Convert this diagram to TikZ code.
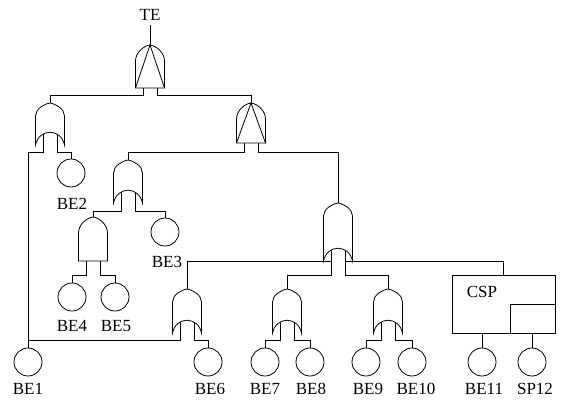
\documentclass[tikz,border=0pt]{standalone}
\usepackage{fontspec}
\setmainfont{Liberation Serif}
\tikzset{
  wire/.style={draw=black,line width=0.8pt},
  gateline/.style={draw=black,line width=0.8pt,fill=white},
  be/.style={circle,draw=black,line width=0.8pt,minimum size=28pt,inner sep=0pt,fill=white},
  lbl/.style={inner sep=0pt,font=\fontsize{17}{20}\selectfont},
}
% OR gate: name, cx, apex y, height
\newcommand{\ORgate}[4]{%
  \coordinate (#1) at (#2,#3);
  \begin{scope}[shift={(#2,#3)}]
    \path[gateline] (0,0) .. controls (-6,1) and (-14.5,6) .. (-14.5,13) -- (-14.5,#4)
      .. controls (-11,#4-17) and (11,#4-17) .. (14.5,#4) -- (14.5,13)
      .. controls (14.5,6) and (6,1) .. (0,0) -- cycle;
  \end{scope}}
% AND gate: name, cx, apex y, height
\newcommand{\ANDgate}[4]{%
  \coordinate (#1) at (#2,#3);
  \begin{scope}[shift={(#2,#3)}]
    \path[gateline] (0,0) .. controls (-7,1) and (-14.5,8) .. (-14.5,16) -- (-14.5,#4)
      -- (14.5,#4) -- (14.5,16) .. controls (14.5,8) and (7,1) .. (0,0) -- cycle;
  \end{scope}}
% AND gate with inner triangle
\newcommand{\PANDgate}[4]{%
  \ANDgate{#1}{#2}{#3}{#4}%
  \begin{scope}[shift={(#2,#3)}]
    \draw[wire] (-14.5,#4) -- (0,0) -- (14.5,#4);
  \end{scope}}
\begin{document}
\begin{tikzpicture}[x=1pt,y=-1pt]
\useasboundingbox (0,0) rectangle (561,401);

% ---- basic events ----
\node[be] (BE2) at (71,173) {};
\node[be] (BE3) at (165,232) {};
\node[be] (BE4) at (72,297) {};
\node[be] (BE5) at (115,297) {};
\node[be] (BE1) at (28,362) {};
\node[be] (BE6) at (208,362) {};
\node[be] (BE7) at (265,362) {};
\node[be] (BE8) at (310,362) {};
\node[be] (BE9) at (366,362) {};
\node[be] (BE10) at (412,362) {};
\node[be] (BE11) at (482,362) {};
\node[be] (SP12) at (532,362) {};

\node[lbl] (tTE) at (150,15) {TE};
\node[lbl] (tBE2) at (72,204) {BE2};
\node[lbl] (tBE3) at (167,262) {BE3};
\node[lbl] (tBE4) at (72,326) {BE4};
\node[lbl] (tBE5) at (116,326) {BE5};
\node[lbl] (tBE1) at (28,389) {BE1};
\node[lbl] (tBE6) at (210,389) {BE6};
\node[lbl] (tBE7) at (265,389) {BE7};
\node[lbl] (tBE8) at (311,389) {BE8};
\node[lbl] (tBE9) at (368,389) {BE9};
\node[lbl] (tBE10) at (416,389) {BE10};
\node[lbl] (tBE11) at (484,389) {BE11};
\node[lbl] (tSP12) at (535,389) {SP12};

% ---- CSP gate ----
\node[draw=black,line width=0.8pt,minimum width=103pt,minimum height=58pt,inner sep=0pt,anchor=north west] (CSP) at (452,275) {};
\draw[wire] (510,333) -- (510,304) -- (555,304);
\node[lbl] (tCSP) at (482,292) {CSP};
\draw[wire] (BE11.north) -- (BE11.north |- CSP.south);
\draw[wire] (SP12.north) -- (SP12.north |- CSP.south);

% ---- wires (drawn before gates) ----
\draw[wire] (150,25) -- (150,45);
% TE
\draw[wire] (143,80) -- (143,95) -- (50,95) -- (50,103);
\draw[wire] (157,80) -- (157,95) -- (251,95) -- (251,103);
% G1
\draw[wire] (43,125) -- (43,152) -- (28,152) -- (BE1.north);
\draw[wire] (57,125) -- (57,152) -- (71,152) -- (BE2.north);
% G2
\draw[wire] (244,135) -- (244,152) -- (128,152) -- (128,160);
\draw[wire] (258,135) -- (258,152) -- (338,152) -- (338,203);
% G3
\draw[wire] (121,185) -- (121,211) -- (93,211) -- (93,217);
\draw[wire] (135,185) -- (135,211) -- (165,211) -- (BE3.north);
% G5
\draw[wire] (86,255) -- (86,275) -- (72,275) -- (BE4.north);
\draw[wire] (100,255) -- (100,275) -- (115,275) -- (BE5.north);
% G4
\draw[wire] (331,228) -- (331,275) -- (287,275) -- (287,289);
\draw[wire] (331,261) -- (187,261) -- (187,289);
\draw[wire] (345,228) -- (345,275) -- (388,275) -- (388,289);
\draw[wire] (345,261) -- (503,261) -- (503,275);
% G6
\draw[wire] (180,315) -- (180,340) -- (28,340);
\draw[wire] (194,315) -- (194,340) -- (208,340) -- (BE6.north);
% G7
\draw[wire] (280,315) -- (280,340) -- (265,340) -- (BE7.north);
\draw[wire] (294,315) -- (294,340) -- (310,340) -- (BE8.north);
% G8
\draw[wire] (381,315) -- (381,340) -- (366,340) -- (BE9.north);
\draw[wire] (395,315) -- (395,340) -- (412,340) -- (BE10.north);

% ---- gates ----
\PANDgate{GTE}{150}{45}{43}
\ORgate{G1}{50}{103}{42}
\PANDgate{G2}{251}{103}{40}
\ORgate{G3}{128}{160}{43}
\ANDgate{G5}{93}{217}{44}
\ORgate{G4}{338}{203}{58}
\ORgate{G6}{187}{289}{44}
\ORgate{G7}{287}{289}{44}
\ORgate{G8}{388}{289}{44}
\end{tikzpicture}
\end{document}
